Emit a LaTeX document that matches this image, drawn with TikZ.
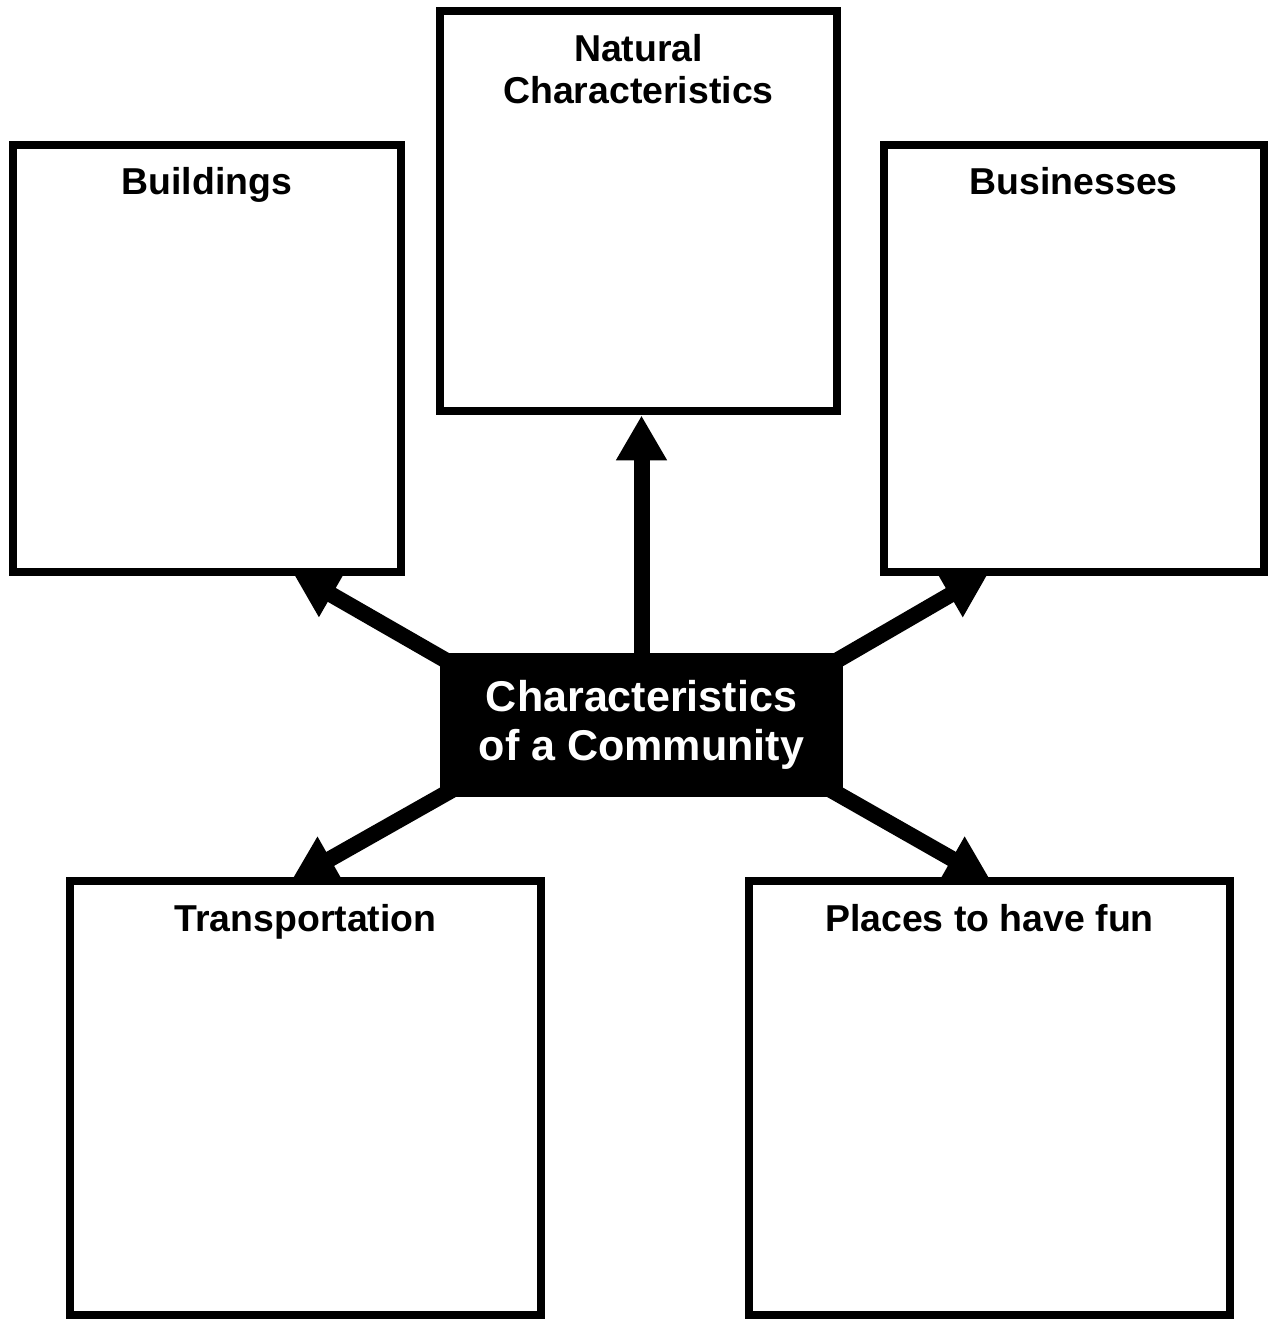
\documentclass[tikz,border=0pt]{standalone}
\usepackage{fontspec}
\setmainfont{Liberation Sans}
\usetikzlibrary{arrows.meta}
\begin{document}
\begin{tikzpicture}[x=0.02cm,y=-0.02cm,
  box/.style={draw,line width=0.16cm,fill=white,outer sep=0pt,inner sep=0pt},
  titre/.style={anchor=north,yshift=-0.46cm,inner sep=0pt,outer sep=0pt,align=center,font=\bfseries\fontsize{21.3pt}{23.9pt}\selectfont},
  fleche/.style={line width=0.32cm,-{Triangle[length=0.9cm,width=0.96cm]}}]
\useasboundingbox (0,0) rectangle (1268,1319);
\node[box,minimum width=7.94cm,minimum height=8.01cm,label={[titre]north:{Natural\\Characteristics}}] (nat) at (638.5,211.25) {};
\node[box,minimum width=7.77cm,minimum height=8.56cm,label={[titre]north:Buildings}] (build) at (206.75,358.5) {};
\node[box,minimum width=7.61cm,minimum height=8.56cm,label={[titre]north:Businesses}] (bus) at (1073.75,358.5) {};
\node[box,minimum width=9.44cm,minimum height=8.68cm,label={[titre]north:Transportation}] (trans) at (305.5,1098) {};
\node[box,minimum width=9.62cm,minimum height=8.68cm,label={[titre]north:Places to have fun}] (fun) at (989.5,1098) {};
\node[fill=black,text=white,inner sep=0pt,minimum width=8.06cm,minimum height=2.88cm,align=center,font=\bfseries\fontsize{24.5pt}{27.8pt}\selectfont] (comm) at (641.5,725) {Characteristics\\of a Community};
\draw[fleche] (comm.north) -- ([yshift=-0.08cm]comm.north |- nat.south);
\draw[fleche] ([xshift=0.34cm,yshift=-0.28cm]comm.north west) -- ([xshift=1.72cm]build.south);
\draw[fleche] ([xshift=-0.34cm,yshift=-0.28cm]comm.north east) -- ([xshift=-1.7cm]bus.south);
\draw[fleche] ([xshift=0.34cm,yshift=0.2cm]comm.south west) -- ([xshift=-0.29cm]trans.north);
\draw[fleche] ([xshift=-0.34cm,yshift=0.2cm]comm.south east) -- ([xshift=0.03cm]fun.north);
\end{tikzpicture}
\end{document}
